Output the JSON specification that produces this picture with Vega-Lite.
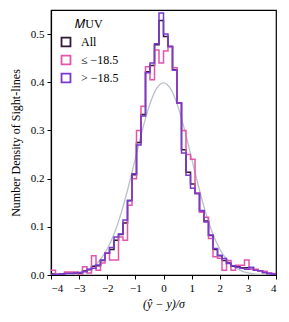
{
  "$schema": "https://vega.github.io/schema/vega-lite/v6.json",
  "width": 225,
  "height": 265,
  "autosize": "none",
  "padding": {"left": 51, "top": 10, "right": 13, "bottom": 47},
  "background": "white",
  "config": {
    "font": "Liberation Serif",
    "view": {"stroke": "black", "strokeWidth": 1.2},
    "axis": {"grid": false, "labelOverlap": false, "labelFont": "Liberation Serif", "titleFont": "Liberation Serif", "domainColor": "black", "domainWidth": 1.2, "tickColor": "black", "tickWidth": 1, "tickSize": 4, "labelColor": "black", "titleColor": "black", "labelFontSize": 11, "titleFontSize": 12, "titleFontWeight": "normal", "labelPadding": 3},
    "legend": {"orient": "top-left", "offset": 9, "padding": 0, "titleFont": "Liberation Serif", "labelFont": "Liberation Serif", "titleFontSize": 12, "titleFontWeight": "normal", "titleColor": "black", "titleAnchor": "middle", "titleAlign": "center", "titlePadding": 5, "labelFontSize": 12, "labelColor": "black", "symbolType": "square", "symbolSize": 80, "symbolStrokeWidth": 1.8, "symbolFillColor": "transparent", "rowPadding": 0, "labelOffset": 9}
  },
  "datasets": {
    "hist": [
      {"x": -4.0, "all": 0.002, "bright": 0.010, "faint": 0.001},
      {"x": -3.84, "all": 0.001, "bright": 0.002, "faint": 0.001},
      {"x": -3.68, "all": 0.002, "bright": 0.0, "faint": 0.002},
      {"x": -3.52, "all": 0.0035, "bright": 0.006, "faint": 0.003},
      {"x": -3.36, "all": 0.0035, "bright": 0.006, "faint": 0.003},
      {"x": -3.2, "all": 0.0043, "bright": 0.006, "faint": 0.004},
      {"x": -3.04, "all": 0.0043, "bright": 0.0, "faint": 0.005},
      {"x": -2.88, "all": 0.0085, "bright": 0.017, "faint": 0.007},
      {"x": -2.72, "all": 0.011, "bright": 0.004, "faint": 0.012},
      {"x": -2.56, "all": 0.018, "bright": 0.040, "faint": 0.014},
      {"x": -2.4, "all": 0.019, "bright": 0.010, "faint": 0.021},
      {"x": -2.24, "all": 0.030, "bright": 0.025, "faint": 0.031},
      {"x": -2.08, "all": 0.045, "bright": 0.046, "faint": 0.045},
      {"x": -1.92, "all": 0.053, "bright": 0.031, "faint": 0.057},
      {"x": -1.76, "all": 0.072, "bright": 0.031, "faint": 0.079},
      {"x": -1.6, "all": 0.084, "bright": 0.079, "faint": 0.085},
      {"x": -1.44, "all": 0.108, "bright": 0.072, "faint": 0.114},
      {"x": -1.28, "all": 0.154, "bright": 0.145, "faint": 0.155},
      {"x": -1.12, "all": 0.208, "bright": 0.200, "faint": 0.210},
      {"x": -0.96, "all": 0.275, "bright": 0.300, "faint": 0.270},
      {"x": -0.8, "all": 0.333, "bright": 0.350, "faint": 0.330},
      {"x": -0.64, "all": 0.422, "bright": 0.432, "faint": 0.420},
      {"x": -0.48, "all": 0.435, "bright": 0.405, "faint": 0.440},
      {"x": -0.32, "all": 0.478, "bright": 0.467, "faint": 0.480},
      {"x": -0.16, "all": 0.528, "bright": 0.440, "faint": 0.544},
      {"x": 0.0, "all": 0.495, "bright": 0.465, "faint": 0.500},
      {"x": 0.16, "all": 0.474, "bright": 0.474, "faint": 0.474},
      {"x": 0.32, "all": 0.426, "bright": 0.430, "faint": 0.425},
      {"x": 0.48, "all": 0.357, "bright": 0.357, "faint": 0.357},
      {"x": 0.64, "all": 0.260, "bright": 0.300, "faint": 0.253},
      {"x": 0.8, "all": 0.213, "bright": 0.250, "faint": 0.207},
      {"x": 0.96, "all": 0.189, "bright": 0.240, "faint": 0.180},
      {"x": 1.12, "all": 0.169, "bright": 0.170, "faint": 0.169},
      {"x": 1.28, "all": 0.133, "bright": 0.130, "faint": 0.134},
      {"x": 1.44, "all": 0.112, "bright": 0.120, "faint": 0.110},
      {"x": 1.6, "all": 0.082, "bright": 0.076, "faint": 0.083},
      {"x": 1.76, "all": 0.053, "bright": 0.038, "faint": 0.055},
      {"x": 1.92, "all": 0.040, "bright": 0.035, "faint": 0.041},
      {"x": 2.08, "all": 0.030, "bright": 0.010, "faint": 0.034},
      {"x": 2.24, "all": 0.025, "bright": 0.030, "faint": 0.024},
      {"x": 2.4, "all": 0.018, "bright": 0.010, "faint": 0.019},
      {"x": 2.56, "all": 0.017, "bright": 0.020, "faint": 0.016},
      {"x": 2.72, "all": 0.015, "bright": 0.020, "faint": 0.014},
      {"x": 2.88, "all": 0.015, "bright": 0.031, "faint": 0.012},
      {"x": 3.04, "all": 0.015, "bright": 0.012, "faint": 0.016},
      {"x": 3.2, "all": 0.010, "bright": 0.012, "faint": 0.010},
      {"x": 3.36, "all": 0.009, "bright": 0.008, "faint": 0.009},
      {"x": 3.52, "all": 0.005, "bright": 0.008, "faint": 0.005},
      {"x": 3.68, "all": 0.003, "bright": 0.004, "faint": 0.003},
      {"x": 3.84, "all": 0.002, "bright": 0.003, "faint": 0.002},
      {"x": 4.0, "all": 0.002, "bright": 0.003, "faint": 0.002}
    ],
    "gauss": [
      {"x": -4.0, "y": 0.0001}, {"x": -3.75, "y": 0.0004}, {"x": -3.5, "y": 0.0009}, {"x": -3.25, "y": 0.0020},
      {"x": -3.0, "y": 0.0044}, {"x": -2.75, "y": 0.0091}, {"x": -2.5, "y": 0.0175}, {"x": -2.25, "y": 0.0317},
      {"x": -2.0, "y": 0.0540}, {"x": -1.75, "y": 0.0863}, {"x": -1.5, "y": 0.1295}, {"x": -1.25, "y": 0.1826},
      {"x": -1.0, "y": 0.2420}, {"x": -0.75, "y": 0.3011}, {"x": -0.5, "y": 0.3521}, {"x": -0.25, "y": 0.3867},
      {"x": 0.0, "y": 0.3989}, {"x": 0.25, "y": 0.3867}, {"x": 0.5, "y": 0.3521}, {"x": 0.75, "y": 0.3011},
      {"x": 1.0, "y": 0.2420}, {"x": 1.25, "y": 0.1826}, {"x": 1.5, "y": 0.1295}, {"x": 1.75, "y": 0.0863},
      {"x": 2.0, "y": 0.0540}, {"x": 2.25, "y": 0.0317}, {"x": 2.5, "y": 0.0175}, {"x": 2.75, "y": 0.0091},
      {"x": 3.0, "y": 0.0044}, {"x": 3.25, "y": 0.0020}, {"x": 3.5, "y": 0.0009}, {"x": 3.75, "y": 0.0004},
      {"x": 4.0, "y": 0.0001}
    ]
  },
  "encoding": {
    "x": {"field": "x", "type": "quantitative", "scale": {"domain": [-4, 4], "nice": false}, "axis": {"values": [-4, -3, -2, -1, 0, 1, 2, 3, 4], "format": "d", "title": "(ŷ − y)/σ", "titleFontStyle": "italic", "titlePadding": 5}}
  },
  "layer": [
    {
      "data": {"name": "gauss"},
      "mark": {"type": "line", "color": "#b8c0cb", "strokeWidth": 1.3, "interpolate": "monotone", "clip": true},
      "encoding": {
        "y": {"field": "y", "type": "quantitative", "scale": {"domain": [0, 0.55], "nice": false}, "axis": {"values": [0, 0.1, 0.2, 0.3, 0.4, 0.5], "format": ".1f", "title": "Number Density of Sight-lines", "titlePadding": 8}}
      }
    },
    {
      "data": {"name": "hist"},
      "mark": {"type": "line", "interpolate": "step-after", "strokeWidth": 1.5, "clip": true},
      "encoding": {
        "y": {"field": "all", "type": "quantitative", "axis": {"values": [0, 0.1, 0.2, 0.3, 0.4, 0.5], "format": ".1f", "title": "Number Density of Sight-lines", "titlePadding": 8}},
        "color": {"datum": "All", "scale": {"domain": ["All", "≤ −18.5", "> −18.5"], "range": ["#2f1838", "#e255ab", "#7a38d0"]}, "legend": {"title": "𝑀UV"}}
      }
    },
    {
      "data": {"name": "hist"},
      "mark": {"type": "line", "interpolate": "step-after", "strokeWidth": 1.5, "clip": true},
      "encoding": {
        "y": {"field": "bright", "type": "quantitative", "axis": {"values": [0, 0.1, 0.2, 0.3, 0.4, 0.5], "format": ".1f", "title": "Number Density of Sight-lines", "titlePadding": 8}},
        "color": {"datum": "≤ −18.5"}
      }
    },
    {
      "data": {"name": "hist"},
      "mark": {"type": "line", "interpolate": "step-after", "strokeWidth": 1.5, "clip": true},
      "encoding": {
        "y": {"field": "faint", "type": "quantitative", "axis": {"values": [0, 0.1, 0.2, 0.3, 0.4, 0.5], "format": ".1f", "title": "Number Density of Sight-lines", "titlePadding": 8}},
        "color": {"datum": "> −18.5"}
      }
    }
  ]
}
